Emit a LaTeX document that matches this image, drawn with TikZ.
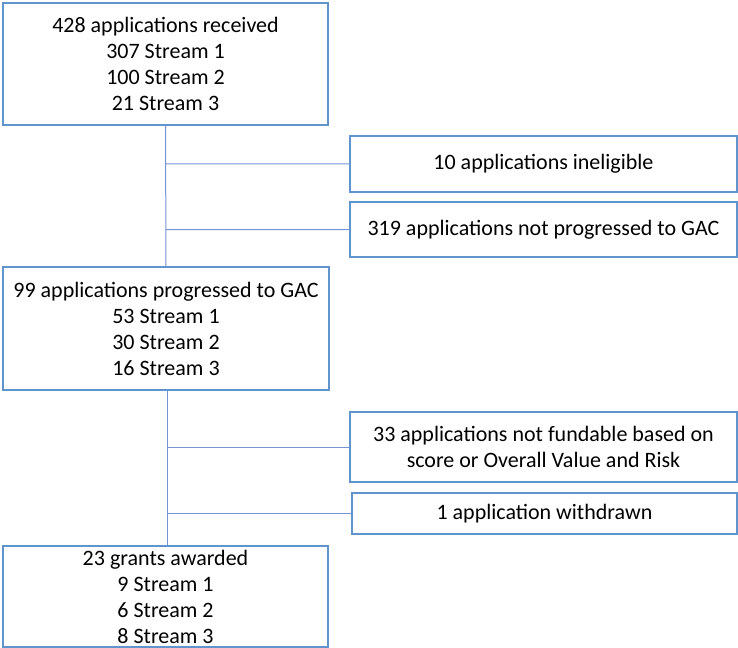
\documentclass[tikz,border=0pt]{standalone}
\usepackage{fontspec}
\setmainfont{Carlito}
\usepackage{tikz}
\usetikzlibrary{positioning}

\definecolor{boxblue}{RGB}{96,148,204}
\definecolor{lineblue}{RGB}{118,148,210}

\tikzset{
  flowbox/.style={draw=boxblue, line width=1.4bp, inner sep=0pt, align=center,
                  font=\fontsize{22bp}{26bp}\selectfont},
  link/.style={draw=lineblue, line width=1bp}
}

\begin{document}
\begin{tikzpicture}[x=1bp, y=-1bp]
            \useasboundingbox (0,0) rectangle (738,648);
            % main column
            \node[flowbox, minimum width=325bp, minimum height=122bp] (recv)  at (165.5,64)    {428 applications received\\307 Stream 1\\100 Stream 2\\21 Stream 3};
            \node[flowbox, minimum width=326bp, minimum height=123bp] (gac)   at (166,328.5)   {99 applications progressed to GAC\\53 Stream 1\\30 Stream 2\\16 Stream 3};
            \node[flowbox, minimum width=325bp, minimum height=101bp] (grant) at (165.5,596.5) {23 grants awarded\\9 Stream 1\\6 Stream 2\\8 Stream 3};
            % exclusions
            \node[flowbox, minimum width=387bp, minimum height=56bp] (inel)  at (543.5,164)   {10 applications ineligible};
            \node[flowbox, minimum width=387bp, minimum height=55bp] (notgac) at (543.5,229.5) {319 applications not progressed to GAC};
            \node[flowbox, minimum width=387bp, minimum height=70bp] (nofund) at (543.5,447)   {33 applications not fundable based on\\score or Overall Value and Risk};
            \node[flowbox, minimum width=385bp, minimum height=41bp] (withd)  at (544.5,513.5) {1 application withdrawn};
            % connectors
            \path[link] (recv.south) -- (gac.north)
                        (recv.south |- inel.west) -- (inel.west)
                        (recv.south |- notgac.west) -- (notgac.west);
            \path[link] ([xshift=1bp]gac.south) -- ([xshift=1bp]gac.south |- grant.north)
                        ([xshift=1bp]gac.south |- nofund.west) -- (nofund.west)
                        ([xshift=1bp]gac.south |- withd.west) -- (withd.west);
        \end{tikzpicture}
\end{document}
